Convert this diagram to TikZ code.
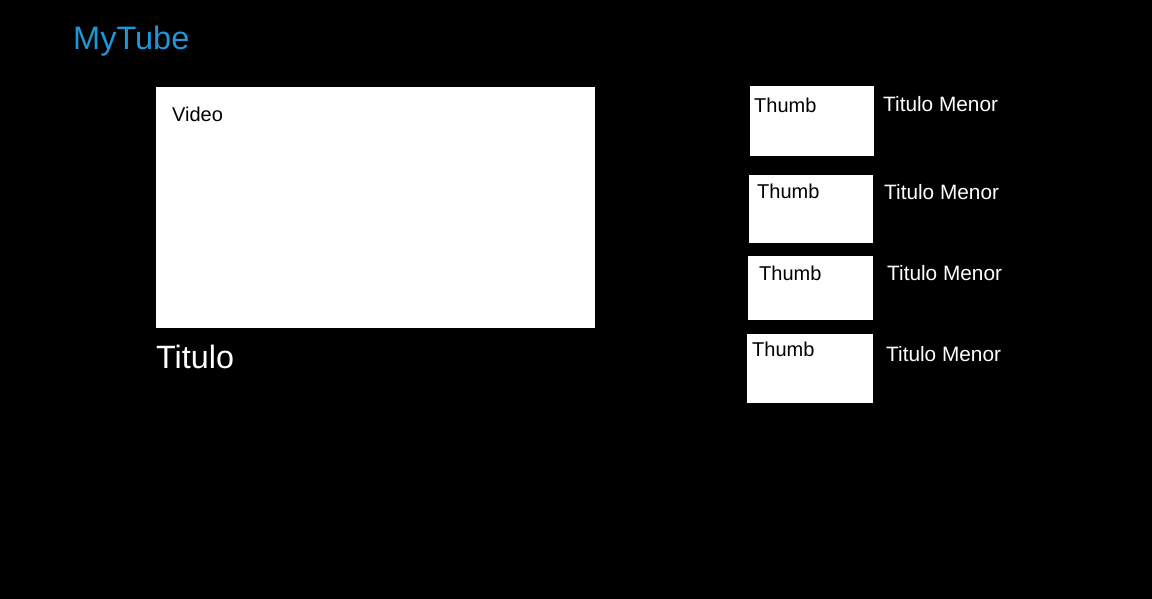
\documentclass[tikz,border=0pt]{standalone}
\usepackage{fontspec}
\setmainfont{Liberation Sans}
\definecolor{titleblue}{RGB}{30,150,215}
\begin{document}
\begin{tikzpicture}[x=1pt,y=-1pt,
  box/.style={fill=white,draw=none,inner sep=0,minimum width=#1,anchor=north west},
  lbl/.style={inner sep=0,anchor=base west,font=\fontsize{20}{24}\selectfont},
  dark/.style={lbl,text=black},
  light/.style={lbl,text=white,font=\fontsize{20.8}{25}\selectfont}]
\fill[black] (0,0) rectangle (1152,599);
\useasboundingbox (0,0) rectangle (1152,599);
\node[inner sep=0,anchor=base west,text=titleblue,font=\fontsize{32.5}{39}\selectfont] (brand) at (73,50) {MyTube};
% main video
\node[box=439pt,minimum height=241pt] (video) at (156,87) {};
\node[dark] (videotxt) at (172,122) {Video};
\node[inner sep=0,anchor=base west,text=white,font=\fontsize{32.3}{38}\selectfont] (titulo) at (156,368) {Titulo};
% thumbnails
\node[box=124pt,minimum height=70pt] (t1) at (750,86) {};
\node[box=124pt,minimum height=68pt] (t2) at (749,175) {};
\node[box=125pt,minimum height=64pt] (t3) at (748,256) {};
\node[box=126pt,minimum height=69pt] (t4) at (747,334) {};
\node[dark] (t1txt) at (754,113) {Thumb};
\node[dark] (t2txt) at (757,199) {Thumb};
\node[dark] (t3txt) at (759,280) {Thumb};
\node[dark] (t4txt) at (752,356) {Thumb};
\node[light] (m1) at (883,112) {Titulo Menor};
\node[light] (m2) at (884,200) {Titulo Menor};
\node[light] (m3) at (887,280) {Titulo Menor};
\node[light] (m4) at (886,361) {Titulo Menor};
\end{tikzpicture}
\end{document}
